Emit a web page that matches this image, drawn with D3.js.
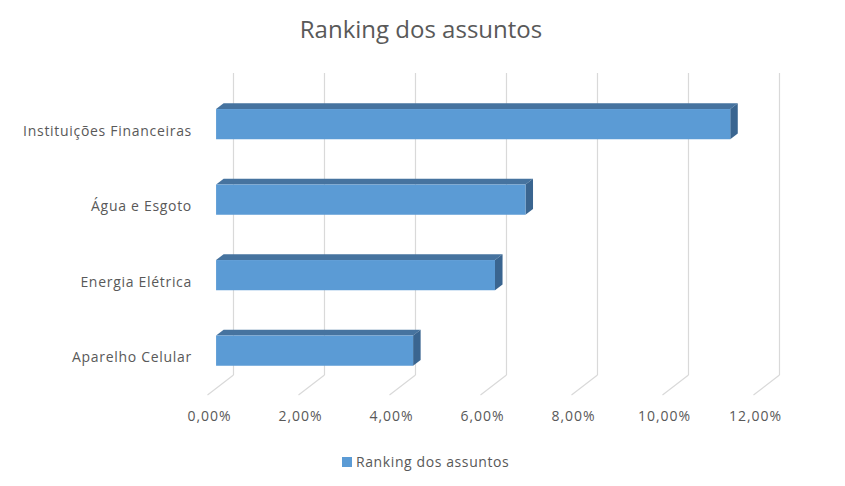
<!DOCTYPE html>
<html>
<head>
<meta charset="utf-8">
<script src="https://cdn.jsdelivr.net/npm/d3@7"></script>
<style>
  body { margin: 0; background: #fff; }
  text { font-family: "Open Sans", "Noto Sans", sans-serif; fill: #595959; }
</style>
</head>
<body>
<svg id="drawing_region"></svg>
<script>
// data
const categories = ['Instituições Financeiras', 'Água e Esgoto', 'Energia Elétrica', 'Aparelho Celular'];
const values = [0.113, 0.068, 0.0613, 0.0433];
const tickValues = [0, 0.02, 0.04, 0.06, 0.08, 0.10, 0.12];
const seriesName = 'Ranking dos assuntos';
const title = 'Ranking dos assuntos';

const data = categories.map((c, i) => ({ label: c, value: values[i] }));

const ptBR = d3.formatLocale({ decimal: ',', thousands: '.', grouping: [3], currency: ['R$', ''] });
const fmt = ptBR.format('.2%');

const width = 845, height = 486;
const svg = d3.select('#drawing_region')
    .attr('width', width)
    .attr('height', height);

// back wall of the 3d box
const xscale = d3.scaleLinear().domain([0, 0.12]).range([233.5, 779.5]);
const yscale = d3.scaleBand().domain(categories).range([73, 375])
    .paddingInner(0.6).paddingOuter(0.3);

// oblique depth offsets (full depth), bar sits between d0 and d1
const DX = -26, DY = 20;
const d0 = 0.38, d1 = 0.67;
const off = d => [DX * d, DY * d];

// gridlines on back wall + floor
const grid = svg.append('g');
tickValues.forEach(t => {
    const x = xscale(t);
    grid.append('line')
        .attr('x1', x).attr('x2', x)
        .attr('y1', 73).attr('y2', 375)
        .attr('stroke', '#d9d9d9').attr('stroke-width', 1.2);
    grid.append('line')
        .attr('x1', x).attr('y1', 375)
        .attr('x2', x + DX).attr('y2', 375 + DY)
        .attr('stroke', '#d9d9d9').attr('stroke-width', 1.2);
});

// x tick labels at the front edge of the floor
svg.append('g').selectAll('text')
    .data(tickValues)
    .join('text')
    .attr('x', d => xscale(d) + DX + 2)
    .attr('y', 421)
    .attr('text-anchor', 'middle')
    .attr('font-size', 14)
    .attr('letter-spacing', 1)
    .text(d => fmt(d));

// y category labels
svg.append('g').selectAll('text')
    .data(categories)
    .join('text')
    .attr('x', 192)
    .attr('y', d => yscale(d) + yscale.bandwidth() / 2 + DY)
    .attr('dy', '0.35em')
    .attr('text-anchor', 'end')
    .attr('font-size', 14)
    .attr('letter-spacing', 0.7)
    .text(d => d);

// 3d bars
const line = d3.line();
const [bx0, by0] = off(d0);
const [bx1, by1] = off(d1);
const bw = yscale.bandwidth();
const bars = svg.append('g').selectAll('g')
    .data(data)
    .join('g');

bars.append('path') // top face
    .attr('d', d => {
        const xa = xscale(0), xb = xscale(d.value), y = yscale(d.label);
        return line([[xa + bx0, y + by0], [xb + bx0, y + by0], [xb + bx1, y + by1], [xa + bx1, y + by1]]) + 'Z';
    })
    .attr('fill', '#46739f');

bars.append('path') // right side
    .attr('d', d => {
        const xb = xscale(d.value), y = yscale(d.label);
        return line([[xb + bx0, y + by0], [xb + bx0, y + bw + by0], [xb + bx1, y + bw + by1], [xb + bx1, y + by1]]) + 'Z';
    })
    .attr('fill', '#3a6590');

bars.append('rect') // front face
    .attr('x', xscale(0) + bx1)
    .attr('y', d => yscale(d.label) + by1)
    .attr('width', d => xscale(d.value) - xscale(0))
    .attr('height', bw)
    .attr('fill', '#5b9bd5');

// title
svg.append('text')
    .attr('x', 421)
    .attr('y', 38)
    .attr('text-anchor', 'middle')
    .attr('font-size', 24)
    .text(title);

// legend
const legend = svg.append('g').attr('transform', 'translate(342, 457)');
legend.append('rect')
    .attr('width', 10).attr('height', 10)
    .attr('fill', '#5b9bd5');
legend.append('text')
    .attr('x', 14).attr('y', 5)
    .attr('dy', '0.35em')
    .attr('font-size', 14)
    .attr('letter-spacing', 0.6)
    .text(seriesName);
</script>
</body>
</html>
